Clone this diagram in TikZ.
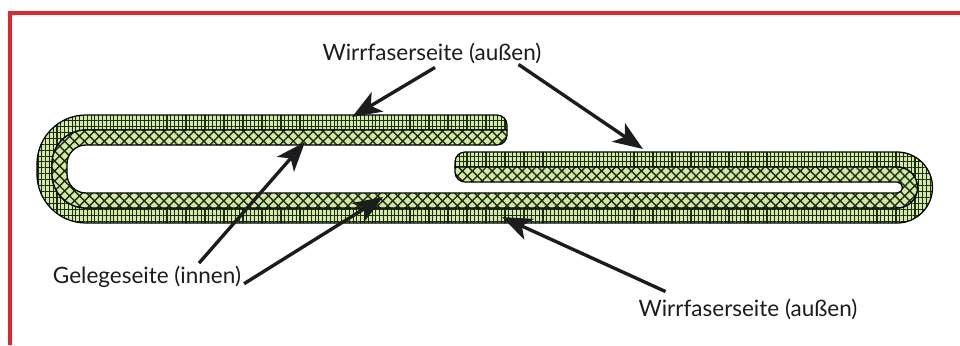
\documentclass[tikz,border=0pt]{standalone}
\usepackage{fontspec}
\setmainfont{Lato}
\usetikzlibrary{arrows.meta,patterns.meta,calc}
\definecolor{leaf}{HTML}{D3E8A2}
\definecolor{fibre}{HTML}{1A2C12}
\definecolor{frame}{HTML}{E2262E}
\definecolor{ink}{HTML}{1C1C1C}
\tikzset{
  >={Stealth[length=21pt,width=16pt,inset=5.5pt]},
  every node/.style={font=\fontsize{16}{18}\selectfont,text=ink,inner sep=2pt},
  layer/.style={draw=black,line width=0.9pt,preaction={fill=leaf}},
  wirr/.style={layer,
    preaction={pattern color=fibre,pattern={Lines[angle=90,distance=2.7pt,line width=0.8pt]}},
    preaction={pattern color=fibre,pattern={Lines[angle=0,distance=4.2pt,line width=0.6pt]}}},
  gelege/.style={layer,
    preaction={pattern color=fibre,pattern={Hatch[angle=45,distance=5pt,line width=1pt]}}},
  arrow/.style={->,line width=2.4pt,draw=ink},
  border/.style={draw=frame,line width=2.2pt},
}

\begin{document}
\begin{tikzpicture}[x=0.025cm,y=0.025cm]
\useasboundingbox (0,0) rectangle (960,345);

% red frame, top and left
\draw[border] (960,332) -- (10,332) -- (10,0);

% outer (Wirrfaser) layer of the folded strip
\path[wirr] (497,230) -- (86,230) arc[start angle=90,end angle=180,radius=49]
  -- (37,171) arc[start angle=180,end angle=270,radius=49]
  -- (897,122) arc[start angle=-90,end angle=90,radius=35.5]
  -- (465,193) arc[start angle=90,end angle=180,radius=10]
  -- (455,178) -- (897,178) arc[start angle=90,end angle=-90,radius=20.5]
  -- (86,137) arc[start angle=270,end angle=180,radius=34]
  -- (52,181) arc[start angle=180,end angle=90,radius=34]
  -- (507,215) -- (507,220) arc[start angle=0,end angle=90,radius=10] -- cycle;

% inner (Gelege) layer
\path[gelege] (86,215) -- (507,215) -- (507,210) arc[start angle=0,end angle=-90,radius=10]
  -- (86,200) arc[start angle=90,end angle=180,radius=19]
  -- (67,171) arc[start angle=180,end angle=270,radius=19]
  -- (897,152) arc[start angle=-90,end angle=90,radius=5.5]
  -- (465,163) arc[start angle=270,end angle=180,radius=10]
  -- (455,178) -- (897,178) arc[start angle=90,end angle=-90,radius=20.5]
  -- (86,137) arc[start angle=270,end angle=180,radius=34]
  -- (52,181) arc[start angle=180,end angle=90,radius=34] -- cycle;

% labels
\node (wtop) at (432,292) {Wirrfaserseite (außen)};
\node (inside) at (147,68) {Gelegeseite (innen)};
\node (wbot) at (748,36) {Wirrfaserseite (außen)};

% arrow tips on the strip
\coordinate (topArm) at (352,228);
\coordinate (rightArm) at (643,196);
\coordinate (underArm) at (305,203);
\coordinate (bottomIn) at (383,148);
\coordinate (bottomOut) at (502,128);

\draw[arrow] ($(wtop.south)+(3,-1)$) -- (topArm);
\draw[arrow] ($(wtop.south east)+(-26,2)$) -- (rightArm);
\draw[arrow] ($(inside.north)+(52,0)$) -- (underArm);
\draw[arrow] (inside.base east) -- (bottomIn);
\draw[arrow] ($(wbot.north west)+(30,4)$) -- (bottomOut);

\end{tikzpicture}
\end{document}
